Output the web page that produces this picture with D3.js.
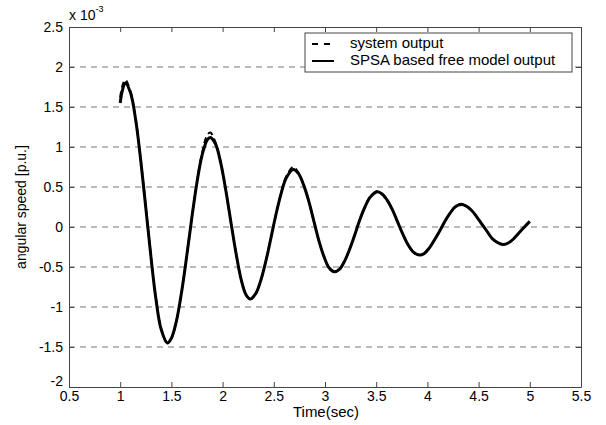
<!DOCTYPE html>
<html>
<head>
<meta charset="utf-8">
<script src="https://cdn.jsdelivr.net/npm/d3@7"></script>
<style>
  body { margin: 0; background: #fff; }
  svg { display: block; font-family: "Liberation Sans", Arial, sans-serif; }
</style>
</head>
<body>
<svg id="chart" width="606" height="425"></svg>
<script>
// time axis (sec)
const time = [1.00, 1.02, 1.05, 1.10, 1.15, 1.20, 1.25, 1.30, 1.35, 1.40, 1.46,
  1.50, 1.55, 1.60, 1.65, 1.70, 1.75, 1.80, 1.85, 1.88,
  1.93, 1.98, 2.03, 2.08, 2.13, 2.18, 2.23, 2.27,
  2.32, 2.37, 2.42, 2.47, 2.52, 2.57, 2.62, 2.69,
  2.74, 2.79, 2.84, 2.89, 2.94, 2.99, 3.04, 3.09,
  3.14, 3.19, 3.24, 3.29, 3.34, 3.39, 3.44, 3.51,
  3.56, 3.61, 3.66, 3.71, 3.76, 3.81, 3.86, 3.92,
  3.97, 4.02, 4.07, 4.12, 4.17, 4.22, 4.27, 4.33,
  4.38, 4.43, 4.48, 4.53, 4.58, 4.63, 4.68, 4.74,
  4.79, 4.84, 4.89, 4.94, 5.00];

// angular speed x 1e-3 p.u.
const systemOutput = [1.62, 1.76, 1.84, 1.70, 1.36, 0.85, 0.25, -0.36, -0.90, -1.27, -1.44,
  -1.39, -1.17, -0.81, -0.36, 0.12, 0.57, 0.93, 1.15, 1.18,
  1.06, 0.82, 0.47, 0.07, -0.32, -0.65, -0.85, -0.90,
  -0.84, -0.68, -0.44, -0.15, 0.15, 0.42, 0.63, 0.75,
  0.68, 0.53, 0.33, 0.08, -0.17, -0.37, -0.51, -0.56,
  -0.53, -0.43, -0.28, -0.10, 0.09, 0.25, 0.38, 0.45,
  0.41, 0.33, 0.21, 0.06, -0.09, -0.22, -0.31, -0.35,
  -0.33, -0.26, -0.16, -0.05, 0.07, 0.17, 0.25, 0.29,
  0.26, 0.21, 0.13, 0.04, -0.05, -0.14, -0.19, -0.22,
  -0.20, -0.15, -0.08, -0.01, 0.07];

const modelOutput = [1.55, 1.70, 1.80, 1.68, 1.35, 0.84, 0.24, -0.37, -0.91, -1.28, -1.45,
  -1.39, -1.17, -0.81, -0.36, 0.12, 0.56, 0.90, 1.09, 1.12,
  1.04, 0.81, 0.47, 0.07, -0.32, -0.65, -0.85, -0.90,
  -0.84, -0.68, -0.44, -0.15, 0.15, 0.41, 0.61, 0.72,
  0.67, 0.53, 0.33, 0.08, -0.17, -0.37, -0.51, -0.56,
  -0.53, -0.43, -0.28, -0.10, 0.09, 0.25, 0.37, 0.44,
  0.41, 0.33, 0.21, 0.06, -0.09, -0.22, -0.31, -0.35,
  -0.33, -0.26, -0.16, -0.05, 0.07, 0.17, 0.25, 0.28,
  0.26, 0.21, 0.13, 0.04, -0.05, -0.14, -0.19, -0.22,
  -0.20, -0.15, -0.08, -0.01, 0.07];

const xTicks = [0.5, 1, 1.5, 2, 2.5, 3, 3.5, 4, 4.5, 5, 5.5];
const yTicks = [-2, -1.5, -1, -0.5, 0, 0.5, 1, 1.5, 2, 2.5];
const legendLabels = ["system output", "SPSA based free model output"];

const svg = d3.select("#chart");
const plotL = 69, plotR = 581, plotT = 27, plotB = 387;

const x = d3.scaleLinear().domain([0.5, 5.5]).range([plotL, plotR]);
const y = d3.scaleLinear().domain([-2, 2.5]).range([plotB, plotT]);

// horizontal grid
svg.append("g")
  .selectAll("line")
  .data(yTicks.filter(d => d > -2 && d < 2.5))
  .enter().append("line")
  .attr("x1", plotL).attr("x2", plotR)
  .attr("y1", d => y(d)).attr("y2", d => y(d))
  .attr("stroke", "#777")
  .attr("stroke-width", 1)
  .attr("stroke-dasharray", "6,5");

// axes (matlab style box, inward ticks)
const fmt = d => String(d);
svg.append("g")
  .attr("transform", `translate(0,${plotB})`)
  .call(d3.axisBottom(x).tickValues(xTicks).tickFormat(fmt).tickSizeInner(-5).tickSizeOuter(0).tickPadding(4));
svg.append("g")
  .attr("transform", `translate(0,${plotT})`)
  .call(d3.axisTop(x).tickValues(xTicks).tickFormat("").tickSizeInner(-5).tickSizeOuter(0));
const yAxisG = svg.append("g")
  .attr("transform", `translate(${plotL},0)`)
  .call(d3.axisLeft(y).tickValues(yTicks).tickFormat(fmt).tickSizeInner(-5).tickSizeOuter(0).tickPadding(6));
svg.append("g")
  .attr("transform", `translate(${plotR},0)`)
  .call(d3.axisRight(y).tickValues(yTicks).tickFormat("").tickSizeInner(-5).tickSizeOuter(0));

svg.selectAll(".domain, .tick line").attr("stroke", "#444");
svg.selectAll(".tick text").attr("font-size", 14).attr("fill", "#000")
  .attr("font-family", "Liberation Sans, Arial, sans-serif");
// lowest y label sits a bit higher so it clears the 0.5 label
yAxisG.selectAll(".tick text").filter(d => d === -2).attr("dy", "-0.1em");

// lines
const line = d3.line()
  .x((d, i) => x(time[i]))
  .y(d => y(d))
  .curve(d3.curveCatmullRom);

svg.append("path")
  .attr("d", line(systemOutput))
  .attr("fill", "none")
  .attr("stroke", "#000")
  .attr("stroke-width", 2)
  .attr("stroke-dasharray", "6,4");

svg.append("path")
  .attr("d", line(modelOutput))
  .attr("fill", "none")
  .attr("stroke", "#000")
  .attr("stroke-width", 3);

// exponent label
const ex = svg.append("text").attr("x", 69).attr("y", 20).attr("font-size", 14);
ex.append("tspan").text("x 10");
ex.append("tspan").attr("dy", -8).attr("font-size", 9).text("-3");

// axis titles
svg.append("text")
  .attr("x", 326).attr("y", 417)
  .attr("text-anchor", "middle")
  .attr("font-size", 15)
  .text("Time(sec)");

svg.append("text")
  .attr("transform", `translate(26,${(plotT + plotB) / 2}) rotate(-90)`)
  .attr("text-anchor", "middle")
  .attr("font-size", 14)
  .text("angular speed [p.u.]");

// legend
const lg = svg.append("g");
lg.append("rect")
  .attr("x", 305).attr("y", 33).attr("width", 267).attr("height", 39)
  .attr("fill", "#fff").attr("stroke", "#444");
lg.append("line")
  .attr("x1", 312).attr("x2", 334).attr("y1", 44).attr("y2", 44)
  .attr("stroke", "#000").attr("stroke-width", 2).attr("stroke-dasharray", "6,6");
lg.append("line")
  .attr("x1", 312).attr("x2", 334).attr("y1", 61).attr("y2", 61)
  .attr("stroke", "#000").attr("stroke-width", 2);
lg.selectAll("text.lab")
  .data(legendLabels)
  .enter().append("text")
  .attr("class", "lab")
  .attr("x", 350)
  .attr("y", (d, i) => 48 + i * 17)
  .attr("font-size", 15)
  .text(d => d);
</script>
</body>
</html>
